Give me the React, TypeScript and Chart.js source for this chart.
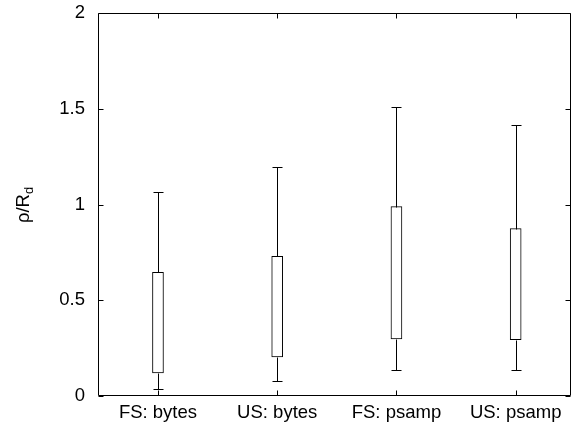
import React, { useEffect, useRef } from "react";
import { Chart, registerables } from "chart.js";

Chart.register(...registerables);

const categories = ["FS: bytes", "US: bytes", "FS: psamp", "US: psamp"];
const positions = [1, 2, 3, 4];
const whiskerLow = [0.038, 0.078, 0.136, 0.136];
const boxLow = [0.12, 0.204, 0.298, 0.294];
const boxHigh = [0.646, 0.729, 0.989, 0.874];
const whiskerHigh = [1.064, 1.196, 1.509, 1.415];
const yTicks = [0, 0.5, 1, 1.5, 2];

const FONT = "Liberation Sans, Arial, Helvetica, sans-serif";
const FONT_SIZE = 18.5;

const framePlugin = {
  id: "gnuplotFrame",
  afterDatasetsDraw(chart: any) {
    const { ctx, chartArea } = chart;
    const xs = chart.scales.x;
    const ys = chart.scales.y;
    const { left, right, top, bottom } = chartArea;
    ctx.save();
    ctx.strokeStyle = "#000";
    ctx.lineWidth = 1;
    // whiskers
    for (let i = 0; i < positions.length; i++) {
      const cx = Math.round(xs.getPixelForValue(positions[i])) + 0.5;
      const yWL = Math.round(ys.getPixelForValue(whiskerLow[i])) + 0.5;
      const yBL = Math.round(ys.getPixelForValue(boxLow[i])) + 0.5;
      const yBH = Math.round(ys.getPixelForValue(boxHigh[i])) + 0.5;
      const yWH = Math.round(ys.getPixelForValue(whiskerHigh[i])) + 0.5;
      ctx.beginPath();
      ctx.moveTo(cx, yWL);
      ctx.lineTo(cx, yBL);
      ctx.moveTo(cx, yBH);
      ctx.lineTo(cx, yWH);
      ctx.moveTo(cx - 5, yWL);
      ctx.lineTo(cx + 5, yWL);
      ctx.moveTo(cx - 5, yWH);
      ctx.lineTo(cx + 5, yWH);
      ctx.stroke();
    }
    // frame
    const L = Math.round(left) + 0.5;
    const R = Math.round(right) - 0.5;
    const T = Math.round(top) + 0.5;
    const B = Math.round(bottom) - 0.5;
    ctx.beginPath();
    ctx.rect(L, T, R - L, B - T);
    ctx.stroke();
    // inward ticks
    const tl = 5;
    ctx.beginPath();
    for (const v of yTicks) {
      const py = Math.round(ys.getPixelForValue(v)) + 0.5;
      ctx.moveTo(L, py);
      ctx.lineTo(L + tl, py);
      ctx.moveTo(R, py);
      ctx.lineTo(R - tl, py);
    }
    for (const v of positions) {
      const px = Math.round(xs.getPixelForValue(v)) + 0.5;
      ctx.moveTo(px, B);
      ctx.lineTo(px, B - tl);
      ctx.moveTo(px, T);
      ctx.lineTo(px, T + tl);
    }
    ctx.stroke();
    // y axis title rho/R_d
    const main = "ρ/R";
    const sub = "d";
    ctx.fillStyle = "#000";
    ctx.font = `${FONT_SIZE}px ${FONT}`;
    const wMain = ctx.measureText(main).width;
    ctx.font = `${FONT_SIZE * 0.7}px ${FONT}`;
    const wSub = ctx.measureText(sub).width;
    const total = wMain + wSub;
    ctx.translate(29, 205);
    ctx.rotate(-Math.PI / 2);
    ctx.textBaseline = "alphabetic";
    ctx.textAlign = "left";
    ctx.font = `${FONT_SIZE}px ${FONT}`;
    ctx.fillText(main, -total / 2, 0);
    ctx.font = `${FONT_SIZE * 0.7}px ${FONT}`;
    ctx.fillText(sub, -total / 2 + wMain, 4);
    ctx.restore();
  },
};

export default function App() {
  const ref = useRef<HTMLCanvasElement | null>(null);
  useEffect(() => {
    if (!ref.current) return;
    const chart = new Chart(ref.current, {
      type: "bar",
      data: {
        datasets: [
          {
            data: positions.map((p, i) => ({ x: p, y: [boxLow[i], boxHigh[i]] })) as any,
            backgroundColor: "#ffffff",
            borderColor: "#000000",
            borderWidth: 1,
            borderSkipped: false,
            barThickness: 11,
          },
        ],
      },
      options: {
        responsive: false,
        animation: false,
        devicePixelRatio: 1,
        layout: { padding: { top: 13, right: 5, left: 0, bottom: 0 } },
        plugins: {
          legend: { display: false },
          tooltip: { enabled: false },
        },
        scales: {
          x: {
            type: "linear",
            min: 0.497,
            max: 4.464,
            offset: false,
            grid: { display: false, drawTicks: false, offset: false },
            border: { display: false },
            afterBuildTicks: (scale: any) => {
              scale.ticks = positions.map((v) => ({ value: v }));
            },
            afterFit: (scale: any) => {
              scale.height = 30;
              scale.paddingLeft = 0;
              scale.paddingRight = 0;
            },
            ticks: {
              autoSkip: false,
              maxRotation: 0,
              padding: 6,
              color: "#000",
              font: { family: FONT, size: FONT_SIZE },
              callback: (v: any) => {
                const idx = positions.indexOf(Number(v));
                return idx >= 0 ? categories[idx] : "";
              },
            },
          },
          y: {
            type: "linear",
            min: 0,
            max: 2,
            grid: { display: false, drawTicks: false },
            border: { display: false },
            afterBuildTicks: (scale: any) => {
              scale.ticks = yTicks.map((v) => ({ value: v }));
            },
            afterFit: (scale: any) => {
              scale.width = 98;
              scale.paddingTop = 0;
              scale.paddingBottom = 0;
            },
            ticks: {
              padding: 13,
              color: "#000",
              font: { family: FONT, size: FONT_SIZE },
              callback: (v: any) => String(v),
            },
          },
        },
      },
      plugins: [framePlugin],
    });
    return () => chart.destroy();
  }, []);
  return (
    <div style={{ position: "absolute", left: 0, top: 0, width: 576, height: 426, background: "#fff" }}>
      <canvas ref={ref} width={576} height={426} style={{ width: 576, height: 426, display: "block" }} />
    </div>
  );
}
